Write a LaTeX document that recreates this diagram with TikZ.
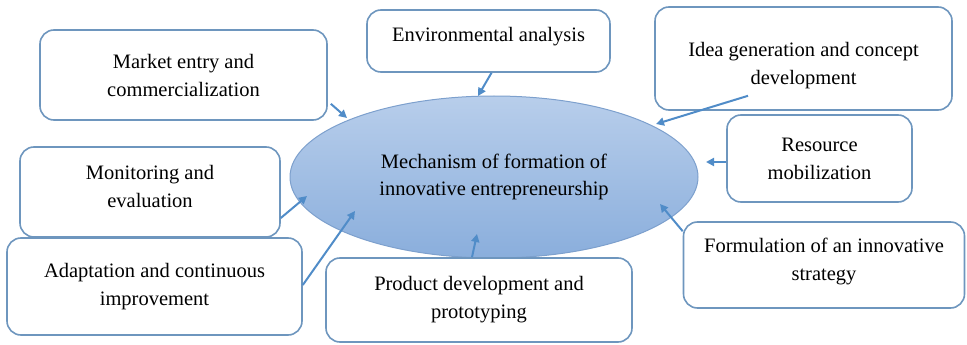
\documentclass[tikz,border=0pt]{standalone}
\usepackage{fontspec}
\setmainfont{Liberation Serif}
\usetikzlibrary{shapes.geometric,arrows.meta,calc}
\definecolor{boxblue}{RGB}{110,150,190}
\definecolor{arrowblue}{RGB}{80,140,200}
\definecolor{elltop}{RGB}{184,206,235}
\definecolor{ellbot}{RGB}{138,174,220}
\definecolor{ellline}{RGB}{125,160,205}
\tikzset{
  boxnode/.style={draw=boxblue, line width=1.6pt, rounded corners=14pt, fill=white,
    align=center, inner sep=0pt, font=\fontsize{20.5}{28}\selectfont},
  hub/.style={ellipse, draw=ellline, line width=1pt, top color=elltop, bottom color=ellbot,
    align=center, inner sep=0pt, font=\fontsize{20.5}{27}\selectfont},
  conn/.style={draw=arrowblue, line width=2pt, -{Triangle[length=8pt,width=8pt]}}
}
\newcommand{\upby}[1]{\rule[-#1pt]{0pt}{0pt}}
\newcommand{\downby}[1]{\rule{0pt}{#1pt}}
\begin{document}
\begin{tikzpicture}[x=1pt,y=-1pt]
\useasboundingbox (0,0) rectangle (967,345);
\node[hub, minimum width=408pt, minimum height=162pt] (hub) at (494,177)
  {Mechanism of formation of\\innovative entrepreneurship};
\node[boxnode, minimum width=287pt, minimum height=90pt] (mkt) at (183.5,75)
  {Market entry and\\commercialization};
\node[boxnode, minimum width=243pt, minimum height=62pt] (env) at (488.5,41)
  {Environmental analysis\upby{13}};
\node[boxnode, minimum width=297pt, minimum height=103pt] (idea) at (803.5,58.5)
  {\downby{28}Idea generation and concept\\development};
\node[boxnode, minimum width=185pt, minimum height=87pt] (res) at (819.5,158.5)
  {Resource\\mobilization};
\node[boxnode, minimum width=281pt, minimum height=86pt] (form) at (824,265)
  {Formulation of an innovative\\strategy\upby{11}};
\node[boxnode, minimum width=306pt, minimum height=84pt] (prod) at (479,300)
  {Product development and\\prototyping};
\node[boxnode, minimum width=295pt, minimum height=97pt] (adapt) at (154.5,286.5)
  {Adaptation and continuous\\improvement};
\node[boxnode, minimum width=260pt, minimum height=90pt] (mon) at (150,192)
  {Monitoring and\\evaluation\upby{12}};
\coordinate (tmkt) at (347,118);
\coordinate (tenv) at (478,96);
\coordinate (tidea) at (656,124);
\coordinate (tres) at (706,162);
\coordinate (tform) at (660,204);
\coordinate (tprod) at (477,234);
\coordinate (tmon) at (307,196);
\coordinate (tadapt) at (355,211);
\draw[conn] ($(mkt.south east)+(3,-17)$) -- (tmkt);
\draw[conn] ($(env.south)+(3,0)$) -- (tenv);
\draw[conn] ($(idea.south)+(-55.5,-15)$) -- (tidea);
\draw[conn] ($(res.west)+(0,3.5)$) -- (tres);
\draw[conn] ($(form.north west)+(0,10)$) -- (tform);
\draw[conn] ($(prod.north)+(-7,0)$) -- (tprod);
\draw[conn] ($(mon.east)+(0,26)$) -- (tmon);
\draw[conn] ($(adapt.east)+(0,-1.5)$) -- (tadapt);
\end{tikzpicture}
\end{document}
